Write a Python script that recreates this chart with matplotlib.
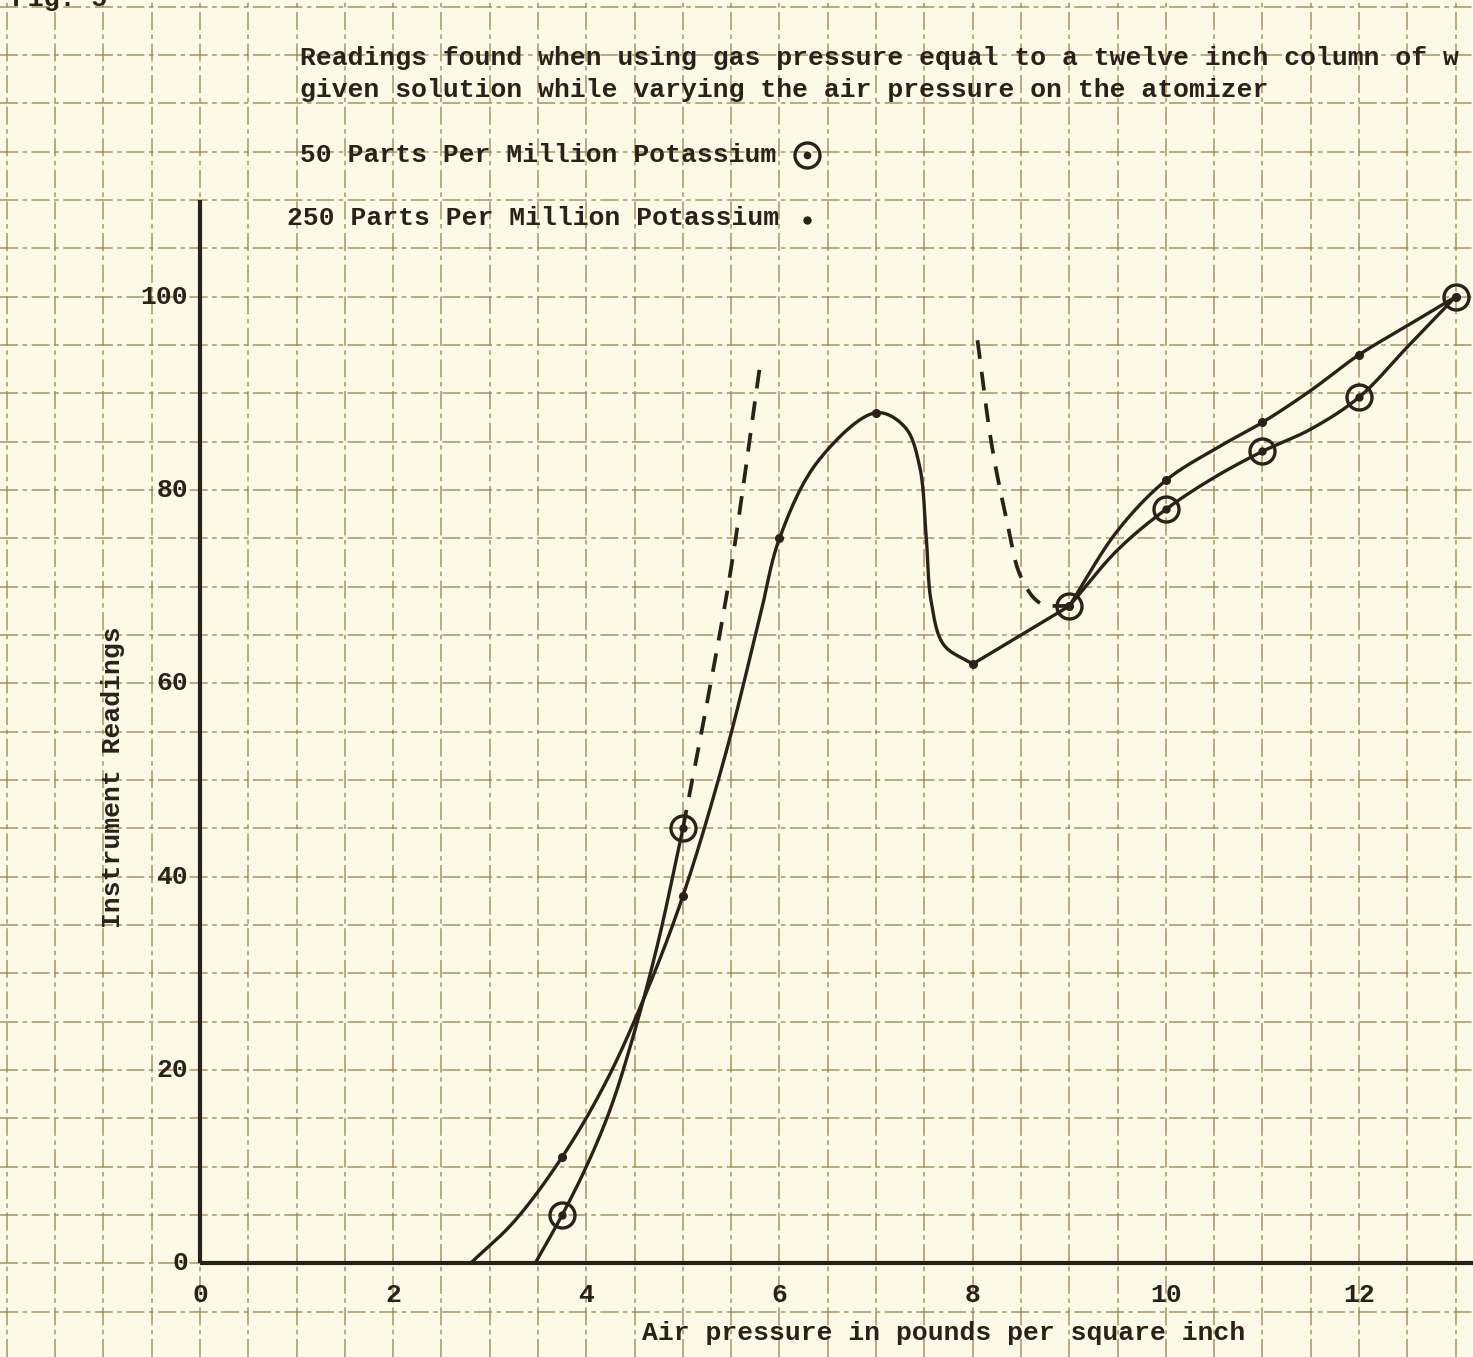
import numpy as np
import matplotlib
matplotlib.use("Agg")
import matplotlib.pyplot as plt

# ---------------- data ----------------
# measured points, 50 ppm potassium (circled points)
x50 = [3.75, 5.0, 9.0, 10.0, 11.0, 12.0, 13.0]
y50 = [5.0, 45.0, 68.0, 78.0, 84.0, 89.6, 100.0]
# measured points, 250 ppm potassium (dots)
x250 = [3.75, 5.0, 6.0, 7.0, 8.0, 9.0, 10.0, 11.0, 12.0, 13.0]
y250 = [11.0, 38.0, 75.0, 88.0, 62.0, 68.0, 81.0, 87.0, 94.0, 100.0]

# hand-drawn curve traces (250 ppm in three pieces)
c250a_x = [2.80, 3.25, 3.75, 4.20, 4.60, 5.0, 5.45, 5.80, 6.0, 6.4, 7.0,
           7.30, 7.45, 7.52, 7.57, 7.70, 8.0]
c250a_y = [0.0, 4.3, 11.0, 18.7, 27.5, 38.0, 53.0, 67.0, 75.0, 83.0, 88.0,
           86.5, 82.5, 75.0, 68.5, 64.0, 62.0]
c250b_x = [8.0, 9.0]
c250b_y = [62.0, 68.0]
c250c_x = [9.0, 9.5, 10.0, 10.5, 11.0, 11.5, 12.0, 12.5, 13.0]
c250c_y = [68.0, 75.8, 81.0, 84.2, 87.0, 90.3, 94.0, 97.0, 100.0]

c50a_x = [3.47, 3.75, 4.0, 4.25, 4.5, 4.75, 5.0]
c50a_y = [0.0, 5.0, 10.0, 16.0, 24.0, 33.5, 45.0]
c50b_x = [9.0, 9.5, 10.0, 10.5, 11.0, 11.5, 12.0, 12.5, 13.0]
c50b_y = [68.0, 73.8, 78.0, 81.3, 84.0, 86.3, 89.6, 94.8, 100.0]
# dashed (off-scale) parts of the 50 ppm curve
d50a_x = [5.0, 5.25, 5.5, 5.8]
d50a_y = [45.0, 58.0, 72.0, 93.0]
d50b_x = [8.05, 8.2, 8.35, 8.5, 8.7, 9.0]
d50b_y = [95.5, 84.5, 77.0, 71.0, 68.3, 68.0]

x_ticks = [0, 2, 4, 6, 8, 10, 12]
y_ticks = [0, 20, 40, 60, 80, 100]

title_lines = ["Readings found when using gas pressure equal to a twelve inch column of w",
               "given solution while varying the air pressure on the atomizer"]
legend_50 = "50 Parts Per Million Potassium"
legend_250 = "250 Parts Per Million Potassium"
x_label = "Air pressure in pounds per square inch"
y_label = "Instrument Readings"

# ---------------- helpers ----------------
SX, SY = 96.6, 9.667  # aspect scaling for parametrisation


def catmull(xs, ys, n=30, alpha=0.5):
    p = np.column_stack([np.asarray(xs, float) * SX, np.asarray(ys, float) * SY])
    if len(p) == 2:
        return p[:, 0] / SX, p[:, 1] / SY
    p = np.vstack([2 * p[0] - p[1], p, 2 * p[-1] - p[-2]])
    out = []
    for i in range(1, len(p) - 2):
        P0, P1, P2, P3 = p[i - 1], p[i], p[i + 1], p[i + 2]
        t0 = 0.0
        t1 = t0 + max(np.linalg.norm(P1 - P0), 1e-6) ** alpha
        t2 = t1 + max(np.linalg.norm(P2 - P1), 1e-6) ** alpha
        t3 = t2 + max(np.linalg.norm(P3 - P2), 1e-6) ** alpha
        t = np.linspace(t1, t2, n)[:, None]
        A1 = (t1 - t) / (t1 - t0) * P0 + (t - t0) / (t1 - t0) * P1
        A2 = (t2 - t) / (t2 - t1) * P1 + (t - t1) / (t2 - t1) * P2
        A3 = (t3 - t) / (t3 - t2) * P2 + (t - t2) / (t3 - t2) * P3
        B1 = (t2 - t) / (t2 - t0) * A1 + (t - t0) / (t2 - t0) * A2
        B2 = (t3 - t) / (t3 - t1) * A2 + (t - t1) / (t3 - t1) * A3
        C = (t2 - t) / (t2 - t1) * B1 + (t - t1) / (t2 - t1) * B2
        out.append(C)
    c = np.vstack(out)
    return c[:, 0] / SX, c[:, 1] / SY


# ---------------- figure ----------------
INK = "#2b2118"
PAPER = "#fcf9e6"
GRID = "#93804e"
FONT = dict(family="Liberation Mono", weight="bold", color=INK)

fig = plt.figure(figsize=(14.73, 13.57), dpi=100, facecolor=PAPER)
ax = fig.add_axes([0, 0, 1, 1])
ax.set_facecolor(PAPER)
ax.set_xlim(-2.07, 13.18)
ax.set_ylim(-9.69, 130.7)
ax.axis("off")

# graph-paper grid
for gx in np.arange(-2.0, 13.01, 0.5):
    ax.axvline(gx, color=GRID, lw=1.3, ls=(0, (10, 2.5, 2.5, 2.5)), alpha=0.7, zorder=1)
for gy in np.arange(-5, 131, 5):
    ax.axhline(gy, color=GRID, lw=1.3, ls=(0, (10, 2.5, 2.5, 2.5)), alpha=0.7, zorder=1)

# axes lines
ax.plot([0, 0], [0, 110.0], color=INK, lw=3.0, solid_capstyle="butt", zorder=3)
ax.plot([0, 13.3], [0, 0], color=INK, lw=3.0, solid_capstyle="butt", zorder=3)

# curves
for cx, cy in [(c250a_x, c250a_y), (c250b_x, c250b_y), (c250c_x, c250c_y),
               (c50a_x, c50a_y), (c50b_x, c50b_y)]:
    sx, sy = catmull(cx, cy)
    ax.plot(sx, sy, color=INK, lw=2.4, zorder=4, solid_capstyle="round")
for cx, cy in [(d50a_x, d50a_y), (d50b_x, d50b_y)]:
    sx, sy = catmull(cx, cy)
    ax.plot(sx, sy, color=INK, lw=2.7, ls=(0, (5, 3.5)), zorder=4)

# markers
ax.plot(x50, y50, ls="none", marker="o", ms=18, mfc="none", mec=INK, mew=2.4, zorder=5)
ax.plot(x50, y50, ls="none", marker="o", ms=5, color=INK, zorder=5)
ax.plot(x250, y250, ls="none", marker="o", ms=5.5, color=INK, zorder=5)

# tick labels
for t in x_ticks:
    ax.text(t, -3.3, str(t), ha="center", va="center", fontsize=19, **FONT)
for t in y_ticks:
    ax.text(-0.12, t, str(t), ha="right", va="center", fontsize=19, **FONT)

ax.text(7.70, -7.2, x_label, ha="center", va="center", fontsize=19, **FONT)
ax.text(-0.90, 50.3, y_label, ha="center", va="center", rotation=90, fontsize=19, **FONT)

# title and legend text
ax.text(1.035, 124.7, title_lines[0], ha="left", va="center", fontsize=19, **FONT)
ax.text(1.035, 121.4, title_lines[1], ha="left", va="center", fontsize=19, **FONT)
ax.text(1.035, 114.7, legend_50, ha="left", va="center", fontsize=19, **FONT)
ax.text(0.90, 108.1, legend_250, ha="left", va="center", fontsize=19, **FONT)
ax.plot([6.29], [114.7], ls="none", marker="o", ms=18, mfc="none", mec=INK, mew=2.4, zorder=5)
ax.plot([6.29], [114.7], ls="none", marker="o", ms=4.5, color=INK, zorder=5)
ax.plot([6.28], [107.9], ls="none", marker="o", ms=5, color=INK, zorder=5)

# partially cut-off figure caption at the top edge (as in the scan)
ax.text(-1.95, 129.6, "Fig. 5", ha="left", va="bottom", fontsize=19, **FONT)

fig.savefig("out.png", dpi=100, facecolor=PAPER)
